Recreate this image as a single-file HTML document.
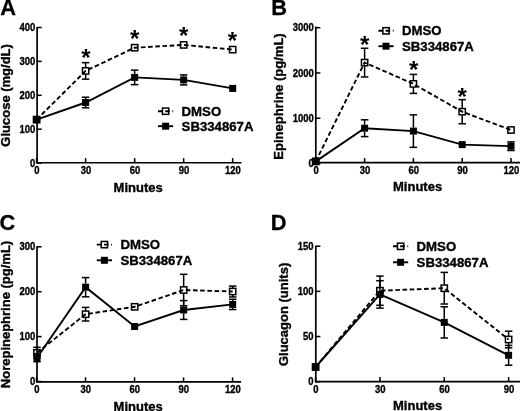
<!DOCTYPE html>
<html><head><meta charset="utf-8"><title>Figure</title>
<style>
html,body{margin:0;padding:0;background:#fff;}
body{width:520px;height:411px;overflow:hidden;}
svg{display:block;will-change:transform;}
svg text{font-family:"Liberation Sans", sans-serif;font-weight:bold;fill:#000;}
</style></head>
<body>
<svg width="520" height="411" viewBox="0 0 520 411">
<rect width="520" height="411" fill="#fff"/>
<line x1="37.10" y1="26.95" x2="37.10" y2="163.60" stroke="#000" stroke-width="1.7" />
<line x1="36.25" y1="162.75" x2="241.50" y2="162.75" stroke="#000" stroke-width="1.7" />
<line x1="37.10" y1="163.10" x2="41.70" y2="163.10" stroke="#000" stroke-width="1.53" />
<text transform="translate(35.40,166.70) scale(0.88,1)" font-size="10.8" text-anchor="end" stroke="#000" stroke-width="0.35">0</text>
<line x1="37.10" y1="129.20" x2="41.70" y2="129.20" stroke="#000" stroke-width="1.53" />
<text transform="translate(35.40,132.80) scale(0.88,1)" font-size="10.8" text-anchor="end" stroke="#000" stroke-width="0.35">100</text>
<line x1="37.10" y1="95.30" x2="41.70" y2="95.30" stroke="#000" stroke-width="1.53" />
<text transform="translate(35.40,98.90) scale(0.88,1)" font-size="10.8" text-anchor="end" stroke="#000" stroke-width="0.35">200</text>
<line x1="37.10" y1="61.40" x2="41.70" y2="61.40" stroke="#000" stroke-width="1.53" />
<text transform="translate(35.40,65.00) scale(0.88,1)" font-size="10.8" text-anchor="end" stroke="#000" stroke-width="0.35">300</text>
<line x1="37.10" y1="27.50" x2="41.70" y2="27.50" stroke="#000" stroke-width="1.53" />
<text transform="translate(35.40,31.10) scale(0.88,1)" font-size="10.8" text-anchor="end" stroke="#000" stroke-width="0.35">400</text>
<line x1="36.60" y1="162.75" x2="36.60" y2="158.15" stroke="#000" stroke-width="1.53" />
<text transform="translate(36.90,173.60) scale(0.88,1)" font-size="10.8" text-anchor="middle" stroke="#000" stroke-width="0.35">0</text>
<line x1="85.62" y1="162.75" x2="85.62" y2="158.15" stroke="#000" stroke-width="1.53" />
<text transform="translate(85.92,173.60) scale(0.88,1)" font-size="10.8" text-anchor="middle" stroke="#000" stroke-width="0.35">30</text>
<line x1="134.64" y1="162.75" x2="134.64" y2="158.15" stroke="#000" stroke-width="1.53" />
<text transform="translate(134.94,173.60) scale(0.88,1)" font-size="10.8" text-anchor="middle" stroke="#000" stroke-width="0.35">60</text>
<line x1="183.66" y1="162.75" x2="183.66" y2="158.15" stroke="#000" stroke-width="1.53" />
<text transform="translate(183.96,173.60) scale(0.88,1)" font-size="10.8" text-anchor="middle" stroke="#000" stroke-width="0.35">90</text>
<line x1="232.68" y1="162.75" x2="232.68" y2="158.15" stroke="#000" stroke-width="1.53" />
<text transform="translate(232.98,173.60) scale(0.88,1)" font-size="10.8" text-anchor="middle" stroke="#000" stroke-width="0.35">120</text>
<text x="113.60" y="192.00" font-size="13.0" text-anchor="start" stroke="#000" stroke-width="0.35">Minutes</text>
<text x="0" y="0" font-size="13.0" text-anchor="middle" stroke="#000" stroke-width="0.35" transform="translate(9.90,95.40) rotate(-90)">Glucose (mg/dL)</text>
<text x="0.30" y="15.20" font-size="21.8" text-anchor="start" stroke="#000" stroke-width="0.3">A</text>
<line x1="158.00" y1="111.20" x2="173.20" y2="111.20" stroke="#000" stroke-width="1.9" stroke-dasharray="4.6,2.6"/>
<rect x="162.45" y="108.05" width="6.30" height="6.30" fill="none" stroke="#000" stroke-width="1.5"/>
<line x1="158.00" y1="126.20" x2="173.20" y2="126.20" stroke="#000" stroke-width="1.9" />
<rect x="162.10" y="122.70" width="7.00" height="7.00" fill="#000"/>
<text x="181.60" y="115.80" font-size="13.2" text-anchor="start" stroke="#000" stroke-width="0.35">DMSO</text>
<text x="181.60" y="130.80" font-size="13.2" text-anchor="start" stroke="#000" stroke-width="0.35">SB334867A</text>
<polyline points="36.60,119.60 85.62,70.90 134.64,47.70 183.66,44.90 232.68,49.60" fill="none" stroke="#000" stroke-width="1.9" stroke-dasharray="4.6,2.6"/>
<line x1="85.62" y1="67.40" x2="85.62" y2="62.65" stroke="#000" stroke-width="1.5" />
<line x1="85.62" y1="74.40" x2="85.62" y2="79.15" stroke="#000" stroke-width="1.5" />
<line x1="81.87" y1="62.65" x2="89.37" y2="62.65" stroke="#000" stroke-width="1.5" />
<line x1="81.87" y1="79.15" x2="89.37" y2="79.15" stroke="#000" stroke-width="1.5" />
<rect x="33.45" y="116.45" width="6.30" height="6.30" fill="none" stroke="#000" stroke-width="1.5"/>
<rect x="82.47" y="67.75" width="6.30" height="6.30" fill="none" stroke="#000" stroke-width="1.5"/>
<rect x="131.49" y="44.55" width="6.30" height="6.30" fill="none" stroke="#000" stroke-width="1.5"/>
<rect x="180.51" y="41.75" width="6.30" height="6.30" fill="none" stroke="#000" stroke-width="1.5"/>
<rect x="229.53" y="46.45" width="6.30" height="6.30" fill="none" stroke="#000" stroke-width="1.5"/>
<polyline points="36.60,119.60 85.62,102.50 134.64,77.40 183.66,79.90 232.68,88.40" fill="none" stroke="#000" stroke-width="1.9" />
<line x1="85.62" y1="99.00" x2="85.62" y2="97.20" stroke="#000" stroke-width="1.5" />
<line x1="85.62" y1="106.00" x2="85.62" y2="107.80" stroke="#000" stroke-width="1.5" />
<line x1="81.87" y1="97.20" x2="89.37" y2="97.20" stroke="#000" stroke-width="1.5" />
<line x1="81.87" y1="107.80" x2="89.37" y2="107.80" stroke="#000" stroke-width="1.5" />
<line x1="134.64" y1="73.90" x2="134.64" y2="70.15" stroke="#000" stroke-width="1.5" />
<line x1="134.64" y1="80.90" x2="134.64" y2="84.65" stroke="#000" stroke-width="1.5" />
<line x1="130.89" y1="70.15" x2="138.39" y2="70.15" stroke="#000" stroke-width="1.5" />
<line x1="130.89" y1="84.65" x2="138.39" y2="84.65" stroke="#000" stroke-width="1.5" />
<line x1="183.66" y1="76.40" x2="183.66" y2="74.90" stroke="#000" stroke-width="1.5" />
<line x1="183.66" y1="83.40" x2="183.66" y2="84.90" stroke="#000" stroke-width="1.5" />
<line x1="179.91" y1="74.90" x2="187.41" y2="74.90" stroke="#000" stroke-width="1.5" />
<line x1="179.91" y1="84.90" x2="187.41" y2="84.90" stroke="#000" stroke-width="1.5" />
<rect x="33.10" y="116.10" width="7.00" height="7.00" fill="#000"/>
<rect x="82.12" y="99.00" width="7.00" height="7.00" fill="#000"/>
<rect x="131.14" y="73.90" width="7.00" height="7.00" fill="#000"/>
<rect x="180.16" y="76.40" width="7.00" height="7.00" fill="#000"/>
<rect x="229.18" y="84.90" width="7.00" height="7.00" fill="#000"/>
<text x="86.00" y="65.50" font-size="24" text-anchor="middle">*</text>
<text x="134.70" y="46.50" font-size="24" text-anchor="middle">*</text>
<text x="183.60" y="44.20" font-size="24" text-anchor="middle">*</text>
<text x="232.50" y="48.50" font-size="24" text-anchor="middle">*</text>
<line x1="315.80" y1="26.55" x2="315.80" y2="163.55" stroke="#000" stroke-width="1.7" />
<line x1="314.95" y1="162.70" x2="520.00" y2="162.70" stroke="#000" stroke-width="1.7" />
<line x1="315.80" y1="163.50" x2="320.40" y2="163.50" stroke="#000" stroke-width="1.53" />
<text transform="translate(313.80,167.10) scale(0.88,1)" font-size="10.8" text-anchor="end" stroke="#000" stroke-width="0.35">0</text>
<line x1="315.80" y1="118.23" x2="320.40" y2="118.23" stroke="#000" stroke-width="1.53" />
<text transform="translate(313.80,121.83) scale(0.88,1)" font-size="10.8" text-anchor="end" stroke="#000" stroke-width="0.35">1000</text>
<line x1="315.80" y1="72.96" x2="320.40" y2="72.96" stroke="#000" stroke-width="1.53" />
<text transform="translate(313.80,76.56) scale(0.88,1)" font-size="10.8" text-anchor="end" stroke="#000" stroke-width="0.35">2000</text>
<line x1="315.80" y1="27.69" x2="320.40" y2="27.69" stroke="#000" stroke-width="1.53" />
<text transform="translate(313.80,31.29) scale(0.88,1)" font-size="10.8" text-anchor="end" stroke="#000" stroke-width="0.35">3000</text>
<line x1="315.80" y1="162.70" x2="315.80" y2="158.10" stroke="#000" stroke-width="1.53" />
<text transform="translate(316.10,173.60) scale(0.88,1)" font-size="10.8" text-anchor="middle" stroke="#000" stroke-width="0.35">0</text>
<line x1="364.60" y1="162.70" x2="364.60" y2="158.10" stroke="#000" stroke-width="1.53" />
<text transform="translate(364.90,173.60) scale(0.88,1)" font-size="10.8" text-anchor="middle" stroke="#000" stroke-width="0.35">30</text>
<line x1="413.40" y1="162.70" x2="413.40" y2="158.10" stroke="#000" stroke-width="1.53" />
<text transform="translate(413.70,173.60) scale(0.88,1)" font-size="10.8" text-anchor="middle" stroke="#000" stroke-width="0.35">60</text>
<line x1="462.20" y1="162.70" x2="462.20" y2="158.10" stroke="#000" stroke-width="1.53" />
<text transform="translate(462.50,173.60) scale(0.88,1)" font-size="10.8" text-anchor="middle" stroke="#000" stroke-width="0.35">90</text>
<line x1="511.00" y1="162.70" x2="511.00" y2="158.10" stroke="#000" stroke-width="1.53" />
<text transform="translate(511.30,173.60) scale(0.88,1)" font-size="10.8" text-anchor="middle" stroke="#000" stroke-width="0.35">120</text>
<text x="393.00" y="191.30" font-size="13.0" text-anchor="start" stroke="#000" stroke-width="0.35">Minutes</text>
<text x="0" y="0" font-size="13.0" text-anchor="middle" stroke="#000" stroke-width="0.35" transform="translate(282.80,96.50) rotate(-90)">Epinephrine (pg/mL)</text>
<text x="271.30" y="15.40" font-size="21.8" text-anchor="start" stroke="#000" stroke-width="0.3">B</text>
<line x1="378.40" y1="30.80" x2="393.60" y2="30.80" stroke="#000" stroke-width="1.9" stroke-dasharray="4.6,2.6"/>
<rect x="382.85" y="27.65" width="6.30" height="6.30" fill="none" stroke="#000" stroke-width="1.5"/>
<line x1="378.40" y1="46.20" x2="393.60" y2="46.20" stroke="#000" stroke-width="1.9" />
<rect x="382.50" y="42.70" width="7.00" height="7.00" fill="#000"/>
<text x="402.00" y="35.40" font-size="13.2" text-anchor="start" stroke="#000" stroke-width="0.35">DMSO</text>
<text x="402.00" y="50.80" font-size="13.2" text-anchor="start" stroke="#000" stroke-width="0.35">SB334867A</text>
<polyline points="315.80,161.40 364.60,62.60 413.40,83.90 462.20,111.70 511.00,130.00" fill="none" stroke="#000" stroke-width="1.9" stroke-dasharray="4.6,2.6"/>
<line x1="364.60" y1="59.10" x2="364.60" y2="48.25" stroke="#000" stroke-width="1.5" />
<line x1="364.60" y1="66.10" x2="364.60" y2="76.95" stroke="#000" stroke-width="1.5" />
<line x1="360.85" y1="48.25" x2="368.35" y2="48.25" stroke="#000" stroke-width="1.5" />
<line x1="360.85" y1="76.95" x2="368.35" y2="76.95" stroke="#000" stroke-width="1.5" />
<line x1="413.40" y1="80.40" x2="413.40" y2="74.40" stroke="#000" stroke-width="1.5" />
<line x1="413.40" y1="87.40" x2="413.40" y2="93.40" stroke="#000" stroke-width="1.5" />
<line x1="409.65" y1="74.40" x2="417.15" y2="74.40" stroke="#000" stroke-width="1.5" />
<line x1="409.65" y1="93.40" x2="417.15" y2="93.40" stroke="#000" stroke-width="1.5" />
<line x1="462.20" y1="108.20" x2="462.20" y2="99.65" stroke="#000" stroke-width="1.5" />
<line x1="462.20" y1="115.20" x2="462.20" y2="123.75" stroke="#000" stroke-width="1.5" />
<line x1="458.45" y1="99.65" x2="465.95" y2="99.65" stroke="#000" stroke-width="1.5" />
<line x1="458.45" y1="123.75" x2="465.95" y2="123.75" stroke="#000" stroke-width="1.5" />
<rect x="312.65" y="158.25" width="6.30" height="6.30" fill="none" stroke="#000" stroke-width="1.5"/>
<rect x="361.45" y="59.45" width="6.30" height="6.30" fill="none" stroke="#000" stroke-width="1.5"/>
<rect x="410.25" y="80.75" width="6.30" height="6.30" fill="none" stroke="#000" stroke-width="1.5"/>
<rect x="459.05" y="108.55" width="6.30" height="6.30" fill="none" stroke="#000" stroke-width="1.5"/>
<rect x="507.85" y="126.85" width="6.30" height="6.30" fill="none" stroke="#000" stroke-width="1.5"/>
<polyline points="315.80,161.40 364.60,128.20 413.40,131.10 462.20,144.60 511.00,146.20" fill="none" stroke="#000" stroke-width="1.9" />
<line x1="364.60" y1="124.70" x2="364.60" y2="119.80" stroke="#000" stroke-width="1.5" />
<line x1="364.60" y1="131.70" x2="364.60" y2="136.60" stroke="#000" stroke-width="1.5" />
<line x1="360.85" y1="119.80" x2="368.35" y2="119.80" stroke="#000" stroke-width="1.5" />
<line x1="360.85" y1="136.60" x2="368.35" y2="136.60" stroke="#000" stroke-width="1.5" />
<line x1="413.40" y1="127.60" x2="413.40" y2="114.85" stroke="#000" stroke-width="1.5" />
<line x1="413.40" y1="134.60" x2="413.40" y2="147.35" stroke="#000" stroke-width="1.5" />
<line x1="409.65" y1="114.85" x2="417.15" y2="114.85" stroke="#000" stroke-width="1.5" />
<line x1="409.65" y1="147.35" x2="417.15" y2="147.35" stroke="#000" stroke-width="1.5" />
<line x1="511.00" y1="142.70" x2="511.00" y2="141.90" stroke="#000" stroke-width="1.5" />
<line x1="511.00" y1="149.70" x2="511.00" y2="150.50" stroke="#000" stroke-width="1.5" />
<line x1="507.25" y1="141.90" x2="514.75" y2="141.90" stroke="#000" stroke-width="1.5" />
<line x1="507.25" y1="150.50" x2="514.75" y2="150.50" stroke="#000" stroke-width="1.5" />
<rect x="312.30" y="157.90" width="7.00" height="7.00" fill="#000"/>
<rect x="361.10" y="124.70" width="7.00" height="7.00" fill="#000"/>
<rect x="409.90" y="127.60" width="7.00" height="7.00" fill="#000"/>
<rect x="458.70" y="141.10" width="7.00" height="7.00" fill="#000"/>
<rect x="507.50" y="142.70" width="7.00" height="7.00" fill="#000"/>
<text x="364.60" y="53.00" font-size="24" text-anchor="middle">*</text>
<text x="413.70" y="78.20" font-size="24" text-anchor="middle">*</text>
<text x="462.20" y="104.80" font-size="24" text-anchor="middle">*</text>
<line x1="37.00" y1="246.25" x2="37.00" y2="382.75" stroke="#000" stroke-width="1.7" />
<line x1="36.15" y1="381.90" x2="241.10" y2="381.90" stroke="#000" stroke-width="1.7" />
<line x1="37.00" y1="381.50" x2="41.60" y2="381.50" stroke="#000" stroke-width="1.53" />
<text transform="translate(35.30,385.10) scale(0.88,1)" font-size="10.8" text-anchor="end" stroke="#000" stroke-width="0.35">0</text>
<line x1="37.00" y1="336.60" x2="41.60" y2="336.60" stroke="#000" stroke-width="1.53" />
<text transform="translate(35.30,340.20) scale(0.88,1)" font-size="10.8" text-anchor="end" stroke="#000" stroke-width="0.35">100</text>
<line x1="37.00" y1="291.70" x2="41.60" y2="291.70" stroke="#000" stroke-width="1.53" />
<text transform="translate(35.30,295.30) scale(0.88,1)" font-size="10.8" text-anchor="end" stroke="#000" stroke-width="0.35">200</text>
<line x1="37.00" y1="246.80" x2="41.60" y2="246.80" stroke="#000" stroke-width="1.53" />
<text transform="translate(35.30,250.40) scale(0.88,1)" font-size="10.8" text-anchor="end" stroke="#000" stroke-width="0.35">300</text>
<line x1="36.50" y1="381.90" x2="36.50" y2="377.30" stroke="#000" stroke-width="1.53" />
<text transform="translate(36.80,392.60) scale(0.88,1)" font-size="10.8" text-anchor="middle" stroke="#000" stroke-width="0.35">0</text>
<line x1="85.52" y1="381.90" x2="85.52" y2="377.30" stroke="#000" stroke-width="1.53" />
<text transform="translate(85.82,392.60) scale(0.88,1)" font-size="10.8" text-anchor="middle" stroke="#000" stroke-width="0.35">30</text>
<line x1="134.54" y1="381.90" x2="134.54" y2="377.30" stroke="#000" stroke-width="1.53" />
<text transform="translate(134.84,392.60) scale(0.88,1)" font-size="10.8" text-anchor="middle" stroke="#000" stroke-width="0.35">60</text>
<line x1="183.56" y1="381.90" x2="183.56" y2="377.30" stroke="#000" stroke-width="1.53" />
<text transform="translate(183.86,392.60) scale(0.88,1)" font-size="10.8" text-anchor="middle" stroke="#000" stroke-width="0.35">90</text>
<line x1="232.58" y1="381.90" x2="232.58" y2="377.30" stroke="#000" stroke-width="1.53" />
<text transform="translate(232.88,392.60) scale(0.88,1)" font-size="10.8" text-anchor="middle" stroke="#000" stroke-width="0.35">120</text>
<text x="113.60" y="410.60" font-size="13.0" text-anchor="start" stroke="#000" stroke-width="0.35">Minutes</text>
<text x="0" y="0" font-size="13.0" text-anchor="middle" stroke="#000" stroke-width="0.35" transform="translate(10.20,314.50) rotate(-90)">Norepinephrine (pg/mL)</text>
<text x="-0.50" y="230.30" font-size="21.8" text-anchor="start" stroke="#000" stroke-width="0.3">C</text>
<line x1="96.80" y1="244.60" x2="112.00" y2="244.60" stroke="#000" stroke-width="1.9" stroke-dasharray="4.6,2.6"/>
<rect x="101.25" y="241.45" width="6.30" height="6.30" fill="none" stroke="#000" stroke-width="1.5"/>
<line x1="96.80" y1="260.30" x2="112.00" y2="260.30" stroke="#000" stroke-width="1.9" />
<rect x="100.90" y="256.80" width="7.00" height="7.00" fill="#000"/>
<text x="120.40" y="249.20" font-size="13.2" text-anchor="start" stroke="#000" stroke-width="0.35">DMSO</text>
<text x="120.40" y="264.90" font-size="13.2" text-anchor="start" stroke="#000" stroke-width="0.35">SB334867A</text>
<polyline points="37.00,352.80 85.62,314.20 134.64,306.80 183.66,290.00 232.68,291.50" fill="none" stroke="#000" stroke-width="1.9" stroke-dasharray="4.6,2.6"/>
<line x1="37.00" y1="349.30" x2="37.00" y2="347.30" stroke="#000" stroke-width="1.5" />
<line x1="37.00" y1="356.30" x2="37.00" y2="358.30" stroke="#000" stroke-width="1.5" />
<line x1="33.25" y1="347.30" x2="40.75" y2="347.30" stroke="#000" stroke-width="1.5" />
<line x1="33.25" y1="358.30" x2="40.75" y2="358.30" stroke="#000" stroke-width="1.5" />
<line x1="85.62" y1="310.70" x2="85.62" y2="307.40" stroke="#000" stroke-width="1.5" />
<line x1="85.62" y1="317.70" x2="85.62" y2="321.00" stroke="#000" stroke-width="1.5" />
<line x1="81.87" y1="307.40" x2="89.37" y2="307.40" stroke="#000" stroke-width="1.5" />
<line x1="81.87" y1="321.00" x2="89.37" y2="321.00" stroke="#000" stroke-width="1.5" />
<line x1="183.66" y1="286.50" x2="183.66" y2="274.30" stroke="#000" stroke-width="1.5" />
<line x1="183.66" y1="293.50" x2="183.66" y2="305.70" stroke="#000" stroke-width="1.5" />
<line x1="179.91" y1="274.30" x2="187.41" y2="274.30" stroke="#000" stroke-width="1.5" />
<line x1="179.91" y1="305.70" x2="187.41" y2="305.70" stroke="#000" stroke-width="1.5" />
<line x1="232.68" y1="288.00" x2="232.68" y2="286.05" stroke="#000" stroke-width="1.5" />
<line x1="232.68" y1="295.00" x2="232.68" y2="296.95" stroke="#000" stroke-width="1.5" />
<line x1="228.93" y1="286.05" x2="236.43" y2="286.05" stroke="#000" stroke-width="1.5" />
<line x1="228.93" y1="296.95" x2="236.43" y2="296.95" stroke="#000" stroke-width="1.5" />
<rect x="33.85" y="349.65" width="6.30" height="6.30" fill="none" stroke="#000" stroke-width="1.5"/>
<rect x="82.47" y="311.05" width="6.30" height="6.30" fill="none" stroke="#000" stroke-width="1.5"/>
<rect x="131.49" y="303.65" width="6.30" height="6.30" fill="none" stroke="#000" stroke-width="1.5"/>
<rect x="180.51" y="286.85" width="6.30" height="6.30" fill="none" stroke="#000" stroke-width="1.5"/>
<rect x="229.53" y="288.35" width="6.30" height="6.30" fill="none" stroke="#000" stroke-width="1.5"/>
<polyline points="37.00,357.70 85.62,287.20 134.64,326.50 183.66,310.00 232.68,304.40" fill="none" stroke="#000" stroke-width="1.9" />
<line x1="37.00" y1="354.20" x2="37.00" y2="353.70" stroke="#000" stroke-width="1.5" />
<line x1="37.00" y1="361.20" x2="37.00" y2="361.70" stroke="#000" stroke-width="1.5" />
<line x1="33.25" y1="353.70" x2="40.75" y2="353.70" stroke="#000" stroke-width="1.5" />
<line x1="33.25" y1="361.70" x2="40.75" y2="361.70" stroke="#000" stroke-width="1.5" />
<line x1="85.62" y1="283.70" x2="85.62" y2="277.60" stroke="#000" stroke-width="1.5" />
<line x1="85.62" y1="290.70" x2="85.62" y2="296.80" stroke="#000" stroke-width="1.5" />
<line x1="81.87" y1="277.60" x2="89.37" y2="277.60" stroke="#000" stroke-width="1.5" />
<line x1="81.87" y1="296.80" x2="89.37" y2="296.80" stroke="#000" stroke-width="1.5" />
<line x1="183.66" y1="306.50" x2="183.66" y2="300.60" stroke="#000" stroke-width="1.5" />
<line x1="183.66" y1="313.50" x2="183.66" y2="319.40" stroke="#000" stroke-width="1.5" />
<line x1="179.91" y1="300.60" x2="187.41" y2="300.60" stroke="#000" stroke-width="1.5" />
<line x1="179.91" y1="319.40" x2="187.41" y2="319.40" stroke="#000" stroke-width="1.5" />
<line x1="232.68" y1="300.90" x2="232.68" y2="299.25" stroke="#000" stroke-width="1.5" />
<line x1="232.68" y1="307.90" x2="232.68" y2="309.55" stroke="#000" stroke-width="1.5" />
<line x1="228.93" y1="299.25" x2="236.43" y2="299.25" stroke="#000" stroke-width="1.5" />
<line x1="228.93" y1="309.55" x2="236.43" y2="309.55" stroke="#000" stroke-width="1.5" />
<rect x="33.50" y="354.20" width="7.00" height="7.00" fill="#000"/>
<rect x="82.12" y="283.70" width="7.00" height="7.00" fill="#000"/>
<rect x="131.14" y="323.00" width="7.00" height="7.00" fill="#000"/>
<rect x="180.16" y="306.50" width="7.00" height="7.00" fill="#000"/>
<rect x="229.18" y="300.90" width="7.00" height="7.00" fill="#000"/>
<line x1="315.80" y1="245.75" x2="315.80" y2="382.55" stroke="#000" stroke-width="1.7" />
<line x1="314.95" y1="381.70" x2="520.00" y2="381.70" stroke="#000" stroke-width="1.7" />
<line x1="315.80" y1="381.70" x2="320.40" y2="381.70" stroke="#000" stroke-width="1.53" />
<text transform="translate(313.60,385.30) scale(0.88,1)" font-size="10.8" text-anchor="end" stroke="#000" stroke-width="0.35">0</text>
<line x1="315.80" y1="336.53" x2="320.40" y2="336.53" stroke="#000" stroke-width="1.53" />
<text transform="translate(313.60,340.13) scale(0.88,1)" font-size="10.8" text-anchor="end" stroke="#000" stroke-width="0.35">50</text>
<line x1="315.80" y1="291.37" x2="320.40" y2="291.37" stroke="#000" stroke-width="1.53" />
<text transform="translate(313.60,294.97) scale(0.88,1)" font-size="10.8" text-anchor="end" stroke="#000" stroke-width="0.35">100</text>
<line x1="315.80" y1="246.20" x2="320.40" y2="246.20" stroke="#000" stroke-width="1.53" />
<text transform="translate(313.60,249.80) scale(0.88,1)" font-size="10.8" text-anchor="end" stroke="#000" stroke-width="0.35">150</text>
<line x1="315.60" y1="381.70" x2="315.60" y2="377.10" stroke="#000" stroke-width="1.53" />
<text transform="translate(315.90,392.60) scale(0.88,1)" font-size="10.8" text-anchor="middle" stroke="#000" stroke-width="0.35">0</text>
<line x1="379.93" y1="381.70" x2="379.93" y2="377.10" stroke="#000" stroke-width="1.53" />
<text transform="translate(380.23,392.60) scale(0.88,1)" font-size="10.8" text-anchor="middle" stroke="#000" stroke-width="0.35">30</text>
<line x1="444.26" y1="381.70" x2="444.26" y2="377.10" stroke="#000" stroke-width="1.53" />
<text transform="translate(444.56,392.60) scale(0.88,1)" font-size="10.8" text-anchor="middle" stroke="#000" stroke-width="0.35">60</text>
<line x1="508.60" y1="381.70" x2="508.60" y2="377.10" stroke="#000" stroke-width="1.53" />
<text transform="translate(508.90,392.60) scale(0.88,1)" font-size="10.8" text-anchor="middle" stroke="#000" stroke-width="0.35">90</text>
<text x="393.00" y="410.30" font-size="13.0" text-anchor="start" stroke="#000" stroke-width="0.35">Minutes</text>
<text x="0" y="0" font-size="13.0" text-anchor="middle" stroke="#000" stroke-width="0.35" transform="translate(288.00,314.40) rotate(-90)">Glucagon (units)</text>
<text x="270.70" y="230.40" font-size="21.8" text-anchor="start" stroke="#000" stroke-width="0.3">D</text>
<line x1="393.00" y1="246.30" x2="408.20" y2="246.30" stroke="#000" stroke-width="1.9" stroke-dasharray="4.6,2.6"/>
<rect x="397.45" y="243.15" width="6.30" height="6.30" fill="none" stroke="#000" stroke-width="1.5"/>
<line x1="393.00" y1="262.30" x2="408.20" y2="262.30" stroke="#000" stroke-width="1.9" />
<rect x="397.10" y="258.80" width="7.00" height="7.00" fill="#000"/>
<text x="416.60" y="250.90" font-size="13.2" text-anchor="start" stroke="#000" stroke-width="0.35">DMSO</text>
<text x="416.60" y="266.90" font-size="13.2" text-anchor="start" stroke="#000" stroke-width="0.35">SB334867A</text>
<polyline points="315.60,367.00 379.93,290.70 444.26,288.20 508.60,339.50" fill="none" stroke="#000" stroke-width="1.9" stroke-dasharray="4.6,2.6"/>
<line x1="379.93" y1="287.20" x2="379.93" y2="276.10" stroke="#000" stroke-width="1.5" />
<line x1="379.93" y1="294.20" x2="379.93" y2="305.30" stroke="#000" stroke-width="1.5" />
<line x1="376.18" y1="276.10" x2="383.68" y2="276.10" stroke="#000" stroke-width="1.5" />
<line x1="376.18" y1="305.30" x2="383.68" y2="305.30" stroke="#000" stroke-width="1.5" />
<line x1="444.26" y1="284.70" x2="444.26" y2="272.40" stroke="#000" stroke-width="1.5" />
<line x1="444.26" y1="291.70" x2="444.26" y2="304.00" stroke="#000" stroke-width="1.5" />
<line x1="440.51" y1="272.40" x2="448.01" y2="272.40" stroke="#000" stroke-width="1.5" />
<line x1="440.51" y1="304.00" x2="448.01" y2="304.00" stroke="#000" stroke-width="1.5" />
<line x1="508.60" y1="336.00" x2="508.60" y2="331.20" stroke="#000" stroke-width="1.5" />
<line x1="508.60" y1="343.00" x2="508.60" y2="347.80" stroke="#000" stroke-width="1.5" />
<line x1="504.85" y1="331.20" x2="512.35" y2="331.20" stroke="#000" stroke-width="1.5" />
<line x1="504.85" y1="347.80" x2="512.35" y2="347.80" stroke="#000" stroke-width="1.5" />
<rect x="312.45" y="363.85" width="6.30" height="6.30" fill="none" stroke="#000" stroke-width="1.5"/>
<rect x="376.78" y="287.55" width="6.30" height="6.30" fill="none" stroke="#000" stroke-width="1.5"/>
<rect x="441.11" y="285.05" width="6.30" height="6.30" fill="none" stroke="#000" stroke-width="1.5"/>
<rect x="505.45" y="336.35" width="6.30" height="6.30" fill="none" stroke="#000" stroke-width="1.5"/>
<polyline points="315.60,367.00 379.93,294.40 444.26,322.40 508.60,355.30" fill="none" stroke="#000" stroke-width="1.9" />
<line x1="379.93" y1="290.90" x2="379.93" y2="280.70" stroke="#000" stroke-width="1.5" />
<line x1="379.93" y1="297.90" x2="379.93" y2="308.10" stroke="#000" stroke-width="1.5" />
<line x1="376.18" y1="280.70" x2="383.68" y2="280.70" stroke="#000" stroke-width="1.5" />
<line x1="376.18" y1="308.10" x2="383.68" y2="308.10" stroke="#000" stroke-width="1.5" />
<line x1="444.26" y1="318.90" x2="444.26" y2="306.80" stroke="#000" stroke-width="1.5" />
<line x1="444.26" y1="325.90" x2="444.26" y2="338.00" stroke="#000" stroke-width="1.5" />
<line x1="440.51" y1="306.80" x2="448.01" y2="306.80" stroke="#000" stroke-width="1.5" />
<line x1="440.51" y1="338.00" x2="448.01" y2="338.00" stroke="#000" stroke-width="1.5" />
<line x1="508.60" y1="351.80" x2="508.60" y2="345.40" stroke="#000" stroke-width="1.5" />
<line x1="508.60" y1="358.80" x2="508.60" y2="365.20" stroke="#000" stroke-width="1.5" />
<line x1="504.85" y1="345.40" x2="512.35" y2="345.40" stroke="#000" stroke-width="1.5" />
<line x1="504.85" y1="365.20" x2="512.35" y2="365.20" stroke="#000" stroke-width="1.5" />
<rect x="312.10" y="363.50" width="7.00" height="7.00" fill="#000"/>
<rect x="376.43" y="290.90" width="7.00" height="7.00" fill="#000"/>
<rect x="440.76" y="318.90" width="7.00" height="7.00" fill="#000"/>
<rect x="505.10" y="351.80" width="7.00" height="7.00" fill="#000"/>
</svg>
</body></html>
